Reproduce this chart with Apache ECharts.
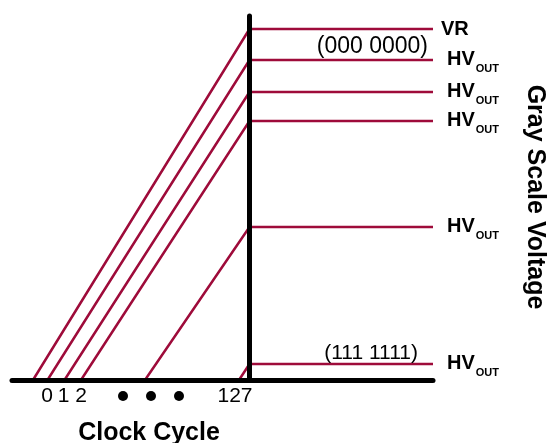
<!DOCTYPE html>
<html>
<head>
<meta charset="utf-8">
<script src="https://cdn.jsdelivr.net/npm/echarts@6/dist/echarts.min.js"></script>
<style>
  html, body { margin: 0; background: #fff; }
  #chart { width: 548px; height: 443px; }
</style>
</head>
<body>
<div id="chart"></div>
<script>
// x: time relative to the end of clock 127 (vertical line at 0), y: voltage
const levelNames = ["VR", "HV", "HV", "HV", "HV", "HV"];
const rampStarts = [-216.5, -202, -185, -168.5, -104.5, -10.5];
const levels = [351, 320, 288, 259, 153, 16];
const rampEnd = 183.5;
const codeLabels = ["", "(000 0000)", "", "", "", "(111 1111)"];
const tickValues = [-202.5, -186, -168.5, -126.5, -98.5, -70.5, -14.5];
const tickLabels = ["0", "1", "2", "•", "•", "•", "127"];

const FONT = '"Liberation Sans", Arial, sans-serif';
const RED = "#9e0b3a";

const chart = echarts.init(document.getElementById("chart"), null, { renderer: "canvas" });

const labelRich = {
  b: { fontSize: 20, fontWeight: "bold", color: "#000", fontFamily: FONT, lineHeight: 25, verticalAlign: "top" },
  s: { fontSize: 11, fontWeight: "bold", color: "#000", fontFamily: FONT, verticalAlign: "bottom", padding: [0, 0, 0, 1] },
};

function codeLabel(i) {
  const first = i === 1;
  return {
    show: true,
    formatter: codeLabels[i],
    position: "top",
    align: "right",
    offset: first ? [-5, 0] : [-15, 0],
    distance: first ? 2 : 0,
    fontSize: first ? 23 : 21,
    color: "#000",
    fontFamily: FONT,
  };
}

chart.setOption({
  animation: false,
  grid: { left: 12, right: 115, top: 16, bottom: 63, containLabel: false },
  xAxis: {
    type: "value",
    min: -237.5,
    max: rampEnd,
    z: 5,
    axisLine: { show: true, onZero: true, lineStyle: { color: "#000", width: 5, cap: "round" } },
    axisTick: { show: false },
    splitLine: { show: false },
    axisLabel: {
      customValues: tickValues,
      margin: 6,
      color: "#000",
      fontSize: 21,
      fontFamily: FONT,
      formatter: (v) => {
        const t = tickLabels[tickValues.indexOf(v)];
        return t === "•" ? "{dot|}" : t;
      },
      rich: { dot: { width: 10, height: 10, lineHeight: 15, borderRadius: 5, backgroundColor: "#000", verticalAlign: "bottom" } },
    },
  },
  yAxis: {
    type: "value",
    min: 0,
    max: 364,
    z: 5,
    axisLine: { show: true, onZero: true, lineStyle: { color: "#000", width: 5, cap: "round" } },
    axisTick: { show: false },
    axisLabel: { show: false },
    splitLine: { show: false },
  },
  series: levels.map((lv, i) => ({
    type: "line",
    name: levelNames[i],
    silent: true,
    symbol: "circle",
    symbolSize: 0,
    showSymbol: true,
    lineStyle: { color: RED, width: 2.5 },
    itemStyle: { color: RED },
    data: [
      [rampStarts[i], 0],
      [0, lv],
      codeLabels[i] ? { value: [rampEnd, lv], label: codeLabel(i) } : [rampEnd, lv],
    ],
    endLabel: i === 0
      ? { show: true, distance: 8, formatter: "VR", fontSize: 20, fontWeight: "bold", color: "#000", fontFamily: FONT }
      : { show: true, distance: 14, offset: [0, 2], formatter: "{b|HV}{s|OUT}", rich: labelRich },
  })),
  graphic: [
    {
      type: "text", x: 149, y: 433,
      style: { text: "Clock Cycle", font: 'bold 25px "Liberation Sans", Arial, sans-serif', fill: "#000",
        textAlign: "center", textVerticalAlign: "middle", align: "center", verticalAlign: "middle" },
    },
    {
      type: "text", x: 535, y: 197, rotation: -Math.PI / 2,
      style: { text: "Gray Scale Voltage", font: 'bold 25px "Liberation Sans", Arial, sans-serif', fill: "#000",
        textAlign: "center", textVerticalAlign: "middle", align: "center", verticalAlign: "middle" },
    },
  ],
});
</script>
</body>
</html>
